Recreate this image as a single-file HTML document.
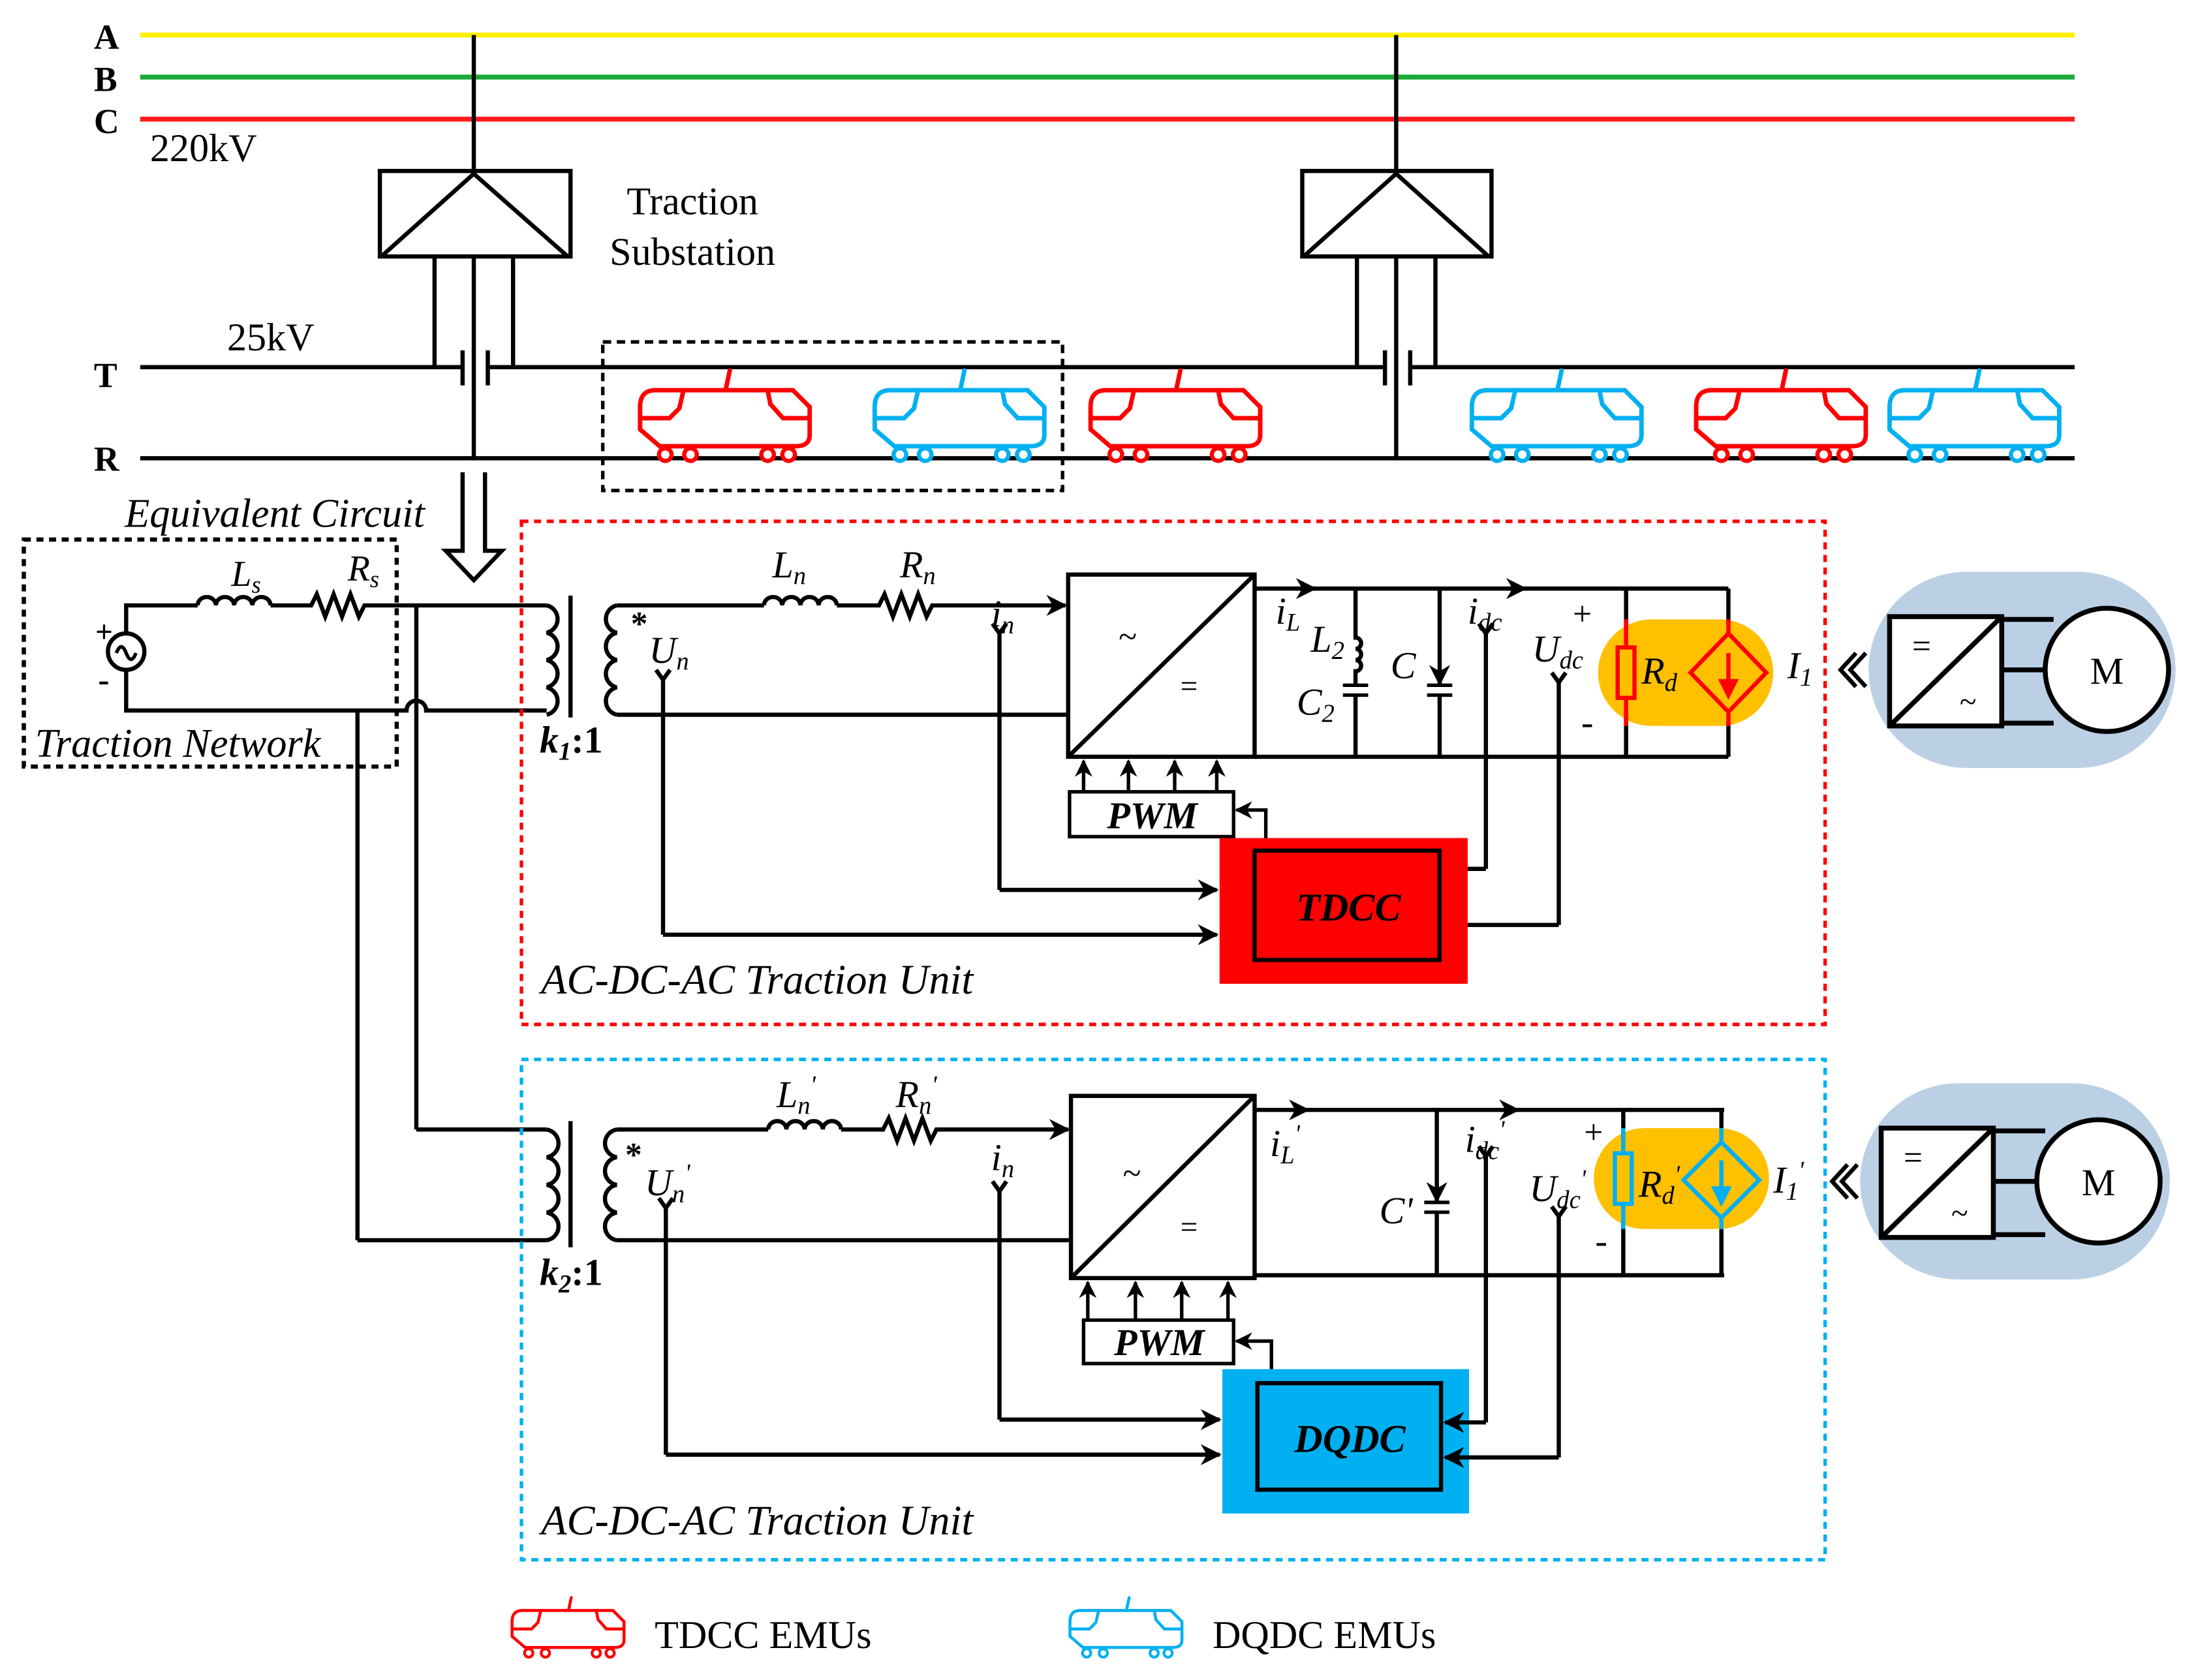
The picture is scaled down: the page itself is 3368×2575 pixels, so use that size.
<!DOCTYPE html>
<html><head><meta charset="utf-8"><style>
html,body{margin:0;padding:0;background:#fff;}
svg{display:block;}
text{font-family:"Liberation Serif",serif;}
</style></head><body>
<svg width="3368" height="2575" viewBox="0 0 1568 1198.8" xmlns="http://www.w3.org/2000/svg">
<defs>
<g id="train">
<path d="M16,20 L114,20 L126,32 L126,52 Q126,60 116,60 L19,60 L5,48 L5,32 Q5,20 16,20 Z" fill="#fff" stroke-width="3.2"/>
<path d="M5,40 L26,40 L33,33 L36,20 M96,20 L98,30 L107,40 L126,40 M66,20 L69,6" fill="none" stroke-width="3.2" stroke-linecap="round"/>
<g fill="#fff" stroke-width="3"><circle cx="23" cy="66" r="4.5"/><circle cx="41" cy="66" r="4.5"/><circle cx="96" cy="66" r="4.5"/><circle cx="111" cy="66" r="4.5"/></g>
</g>
<marker id="ar" viewBox="0 0 10 10" refX="9" refY="5" markerWidth="5" markerHeight="5" orient="auto"><path d="M0,0 L10,5 L0,10 L3,5Z" fill="#000"/></marker>
</defs>

<line x1="100" y1="25" x2="1480" y2="25" stroke="#ffee00" stroke-width="3.5"/>
<line x1="100" y1="55" x2="1480" y2="55" stroke="#1aaa3a" stroke-width="3.5"/>
<line x1="100" y1="85" x2="1480" y2="85" stroke="#ff1a1a" stroke-width="3.5"/>
<g font-size="25" font-weight="bold"><text x="67" y="35">A</text><text x="67" y="65">B</text><text x="67" y="95">C</text><text x="67" y="276">T</text><text x="67" y="336">R</text></g>
<text x="107" y="115" font-size="28">220kV</text>
<text x="162" y="250" font-size="28">25kV</text>
<text x="494" y="153" font-size="28" text-anchor="middle">Traction</text>
<text x="494" y="189" font-size="28" text-anchor="middle">Substation</text>

<g stroke="#000" stroke-width="3" fill="none">
<line x1="100" y1="262" x2="330" y2="262"/><line x1="348" y1="262" x2="988" y2="262"/><line x1="1006" y1="262" x2="1480" y2="262"/>
<line x1="100" y1="327" x2="1480" y2="327"/>
<line x1="338" y1="25" x2="338" y2="122"/>
<rect x="271" y="122" width="136" height="61"/>
<path d="M272,183 L338,124 L405,183"/>
<line x1="310" y1="183" x2="310" y2="262"/><line x1="366" y1="183" x2="366" y2="262"/><line x1="338" y1="183" x2="338" y2="327"/>
<line x1="330" y1="250" x2="330" y2="275"/><line x1="348" y1="250" x2="348" y2="275"/>
<line x1="996" y1="25" x2="996" y2="122"/>
<rect x="929" y="122" width="135" height="61"/>
<path d="M930,183 L996,124 L1062,183"/>
<line x1="968" y1="183" x2="968" y2="262"/><line x1="1024" y1="183" x2="1024" y2="262"/><line x1="996" y1="183" x2="996" y2="327"/>
<line x1="988" y1="250" x2="988" y2="275"/><line x1="1006" y1="250" x2="1006" y2="275"/>
</g>
<rect x="430" y="244" width="328" height="106" fill="none" stroke="#000" stroke-width="2.5" stroke-dasharray="6,4"/>
<use href="#train" x="451.6" y="258.4" stroke="#ff0000"/>
<use href="#train" x="619" y="258.4" stroke="#00b0f0"/>
<use href="#train" x="773" y="258.4" stroke="#ff0000"/>
<use href="#train" x="1045" y="258.4" stroke="#00b0f0"/>
<use href="#train" x="1205" y="258.4" stroke="#ff0000"/>
<use href="#train" x="1343" y="258.4" stroke="#00b0f0"/>

<path d="M330,337 L330,393 L318,393 L338,414 L358,393 L346,393 L346,337" fill="#fff" stroke="#000" stroke-width="3"/>
<text x="196" y="376" font-size="29" font-style="italic" text-anchor="middle">Equivalent Circuit</text>

<rect x="17" y="385" width="266" height="162" fill="none" stroke="#000" stroke-width="3" stroke-dasharray="5,4"/>
<text x="25" y="540" font-size="29" font-style="italic">Traction Network</text>
<g stroke="#000" stroke-width="3" fill="none">
<path d="M90,452 L90,432 L141,432"/>
<path d="M141,432 a6.5,6 0 0 1 13,0 a6.5,6 0 0 1 13,0 a6.5,6 0 0 1 13,0 a6.5,6 0 0 1 13,0"/>
<path d="M193,432 L222,432 L226,424 L232,440 L238,424 L244,440 L250,424 L256,440 L260,432 L390,432"/>
<circle cx="90" cy="465" r="13"/>
<path d="M83,466 q3.5,-9 7,0 q3.5,9 7,0" stroke-width="2.5"/>
<path d="M90,478 L90,507 L290,507 a7,7 0 0 1 14,0 L390,507"/>
<line x1="297" y1="432" x2="297" y2="806"/><line x1="297" y1="806" x2="390" y2="806"/>
<line x1="255" y1="507" x2="255" y2="885"/><line x1="255" y1="885" x2="390" y2="885"/>
</g>
<text x="68" y="458" font-size="22" font-weight="bold">+</text><text x="70" y="493" font-size="24" font-weight="bold">-</text>
<text x="165" y="418" font-size="26" font-style="italic">L<tspan font-size="17" dy="5">s</tspan></text>
<text x="248" y="414" font-size="26" font-style="italic">R<tspan font-size="17" dy="5">s</tspan></text>

<rect x="372" y="372" width="930" height="359" fill="none" stroke="#ff0000" stroke-width="2.5" stroke-dasharray="5,4"/>
<rect x="372" y="756" width="930" height="357" fill="none" stroke="#00b0f0" stroke-width="2.5" stroke-dasharray="5,4"/>
<text x="386" y="709" font-size="30" font-style="italic">AC-DC-AC Traction Unit</text>
<text x="386" y="1095" font-size="30" font-style="italic">AC-DC-AC Traction Unit</text>

<!-- Unit 1 -->
<g stroke="#000" stroke-width="3" fill="none">
<path d="M390,432 a10,10 0 0 1 0,19.5 a10,10 0 0 1 0,19.5 a10,10 0 0 1 0,19.5 a10,10 0 0 1 0,19.5"/>
<line x1="407" y1="425" x2="407" y2="512"/>
<path d="M440,432 a10,10 0 0 0 0,19.5 a10,10 0 0 0 0,19.5 a10,10 0 0 0 0,19.5 a10,10 0 0 0 0,19.5"/>
<path d="M440,432 L545,432"/>
<path d="M545,432 a6.5,6 0 0 1 13,0 a6.5,6 0 0 1 13,0 a6.5,6 0 0 1 13,0 a6.5,6 0 0 1 13,0"/>
<path d="M597,432 L627,432 L631,424 L637,440 L643,424 L649,440 L655,424 L661,440 L665,432 L760,432" marker-end="url(#ar)"/>
<line x1="440" y1="510" x2="762" y2="510"/>
<rect x="762" y="410" width="133" height="130"/>
<line x1="762" y1="540" x2="895" y2="410"/>
<line x1="895" y1="420" x2="1233" y2="420"/>
<line x1="895" y1="540" x2="1233" y2="540"/>
<line x1="925" y1="420" x2="938" y2="420" marker-end="url(#ar)"/>
<line x1="1075" y1="420" x2="1088" y2="420" marker-end="url(#ar)"/>
<path d="M967,420 L967,455 a4,4 0 0 1 0,8 a4,4 0 0 1 0,8 a4,4 0 0 1 0,8 L967,488"/>
<line x1="967" y1="497" x2="967" y2="540"/>
<line x1="1027" y1="420" x2="1027" y2="488" marker-end="url(#ar)"/>
<line x1="1027" y1="497" x2="1027" y2="540"/>
<line x1="1060" y1="452" x2="1060" y2="620"/><line x1="1060" y1="620" x2="1047" y2="620"/>
<line x1="1112" y1="487" x2="1112" y2="660"/><line x1="1047" y1="660" x2="1112" y2="660"/>
<line x1="713" y1="452" x2="713" y2="635"/><line x1="713" y1="635" x2="868" y2="635" marker-end="url(#ar)"/>
<line x1="473" y1="485" x2="473" y2="667"/><line x1="473" y1="667" x2="868" y2="667" marker-end="url(#ar)"/>
<path d="M708,445 L713,452 L718,445 M468,478 L473,485 L478,478 M1055,445 L1060,452 L1065,445 M1107,480 L1112,487 L1117,480"/>
</g>
<rect x="1140" y="442" width="125" height="76" rx="38" fill="#ffc000"/>
<g stroke="#000" stroke-width="3"><line x1="1160" y1="420" x2="1160" y2="450"/><line x1="1160" y1="510" x2="1160" y2="540"/><line x1="1233" y1="420" x2="1233" y2="445"/><line x1="1233" y1="515" x2="1233" y2="540"/></g>
<g stroke="#ff0000" stroke-width="3" fill="none">
<line x1="1160" y1="442" x2="1160" y2="518"/>
<rect x="1154" y="462" width="12" height="36" fill="#ffc000"/>
<line x1="1233" y1="442" x2="1233" y2="518"/>
<path d="M1233,452 L1260,480 L1233,508 L1206,480Z" fill="#ffc000"/>
<line x1="1233" y1="466" x2="1233" y2="490"/><path d="M1228,486 L1233,496 L1238,486Z" fill="#ff0000"/>
</g>
<g stroke="#000" stroke-width="2.5"><line x1="958" y1="489" x2="976" y2="489"/><line x1="958" y1="496" x2="976" y2="496"/><line x1="1018" y1="489" x2="1036" y2="489"/><line x1="1018" y1="496" x2="1036" y2="496"/></g>
<text x="798" y="462" font-size="24">~</text><text x="842" y="497" font-size="22">=</text>
<text x="450" y="453" font-size="24" font-weight="bold">*</text>
<g font-size="27" font-style="italic">
<text x="463" y="473">U<tspan font-size="18" dy="5">n</tspan></text>
<text x="551" y="412">L<tspan font-size="18" dy="5">n</tspan></text>
<text x="642" y="412">R<tspan font-size="18" dy="5">n</tspan></text>
<text x="707" y="447">i<tspan font-size="18" dy="5">n</tspan></text>
<text x="910" y="445">i<tspan font-size="18" dy="5">L</tspan></text>
<text x="935" y="465">L<tspan font-size="18" dy="5">2</tspan></text>
<text x="925" y="510">C<tspan font-size="18" dy="5">2</tspan></text>
<text x="992" y="484">C</text>
<text x="1047" y="445">i<tspan font-size="18" dy="5">dc</tspan></text>
<text x="1093" y="472">U<tspan font-size="18" dy="5">dc</tspan></text>
<text x="1171" y="488">R<tspan font-size="18" dy="5">d</tspan></text>
<text x="1275" y="484">I<tspan font-size="18" dy="5">1</tspan></text>
<text x="385" y="537" font-weight="bold">k<tspan font-size="18" dy="5">1</tspan><tspan dy="-5" font-style="normal">:1</tspan></text>
</g>
<text x="1122" y="446" font-size="24">+</text><text x="1128" y="524" font-size="26">-</text>
<g stroke="#000" stroke-width="2.5" fill="none">
<rect x="763" y="565" width="117" height="32" fill="#fff"/>
<line x1="773" y1="565" x2="773" y2="543" marker-end="url(#ar)"/>
<line x1="805" y1="565" x2="805" y2="543" marker-end="url(#ar)"/>
<line x1="838" y1="565" x2="838" y2="543" marker-end="url(#ar)"/>
<line x1="868" y1="565" x2="868" y2="543" marker-end="url(#ar)"/>
<path d="M903,598 L903,578 L882,578" marker-end="url(#ar)"/>
</g>
<text x="822" y="591" font-size="27" font-weight="bold" font-style="italic" text-anchor="middle">PWM</text>
<rect x="870" y="598" width="177" height="104" fill="#ff0000"/>
<rect x="895" y="607" width="132" height="78" fill="none" stroke="#000" stroke-width="3"/>
<text x="962" y="657" font-size="28" font-weight="bold" font-style="italic" text-anchor="middle">TDCC</text>
<rect x="1333" y="408" width="219" height="140" rx="70" fill="#bcd0e5"/>
<g stroke="#000" stroke-width="3.5" fill="#fff">
<rect x="1348" y="440" width="80" height="78"/>
<line x1="1348" y1="518" x2="1428" y2="440"/>
<path d="M1428,442 L1465,442 M1428,478 L1458,478 M1428,516 L1465,516" fill="none"/>
<circle cx="1503" cy="478" r="44"/>
</g>
<text x="1364" y="469" font-size="24">=</text><text x="1398" y="508" font-size="22">~</text>
<text x="1503" y="488" font-size="27" text-anchor="middle">M</text>
<path d="M1331,466 L1320,478 L1331,490 M1324,466 L1313,478 L1324,490" stroke="#000" stroke-width="3" fill="none"/>

<!-- Unit 2 -->
<g stroke="#000" stroke-width="3" fill="none">
<path d="M390,806 a10,10 0 0 1 0,19.75 a10,10 0 0 1 0,19.75 a10,10 0 0 1 0,19.75 a10,10 0 0 1 0,19.75"/>
<line x1="407" y1="800" x2="407" y2="890"/>
<path d="M440,806 a10,10 0 0 0 0,19.75 a10,10 0 0 0 0,19.75 a10,10 0 0 0 0,19.75 a10,10 0 0 0 0,19.75"/>
<path d="M440,806 L548,806"/>
<path d="M548,806 a6.5,6 0 0 1 13,0 a6.5,6 0 0 1 13,0 a6.5,6 0 0 1 13,0 a6.5,6 0 0 1 13,0"/>
<path d="M600,806 L630,806 L634,798 L640,814 L646,798 L652,814 L658,798 L664,814 L668,806 L762,806" marker-end="url(#ar)"/>
<line x1="440" y1="885" x2="764" y2="885"/>
<rect x="764" y="782" width="131" height="130"/>
<line x1="764" y1="912" x2="895" y2="782"/>
<line x1="895" y1="792" x2="1230" y2="792"/>
<line x1="895" y1="910" x2="1230" y2="910"/>
<line x1="920" y1="792" x2="933" y2="792" marker-end="url(#ar)"/>
<line x1="1070" y1="792" x2="1083" y2="792" marker-end="url(#ar)"/>
<line x1="1025" y1="792" x2="1025" y2="857" marker-end="url(#ar)"/>
<line x1="1025" y1="866" x2="1025" y2="910"/>
<line x1="1060" y1="825" x2="1060" y2="1015"/><line x1="1060" y1="1015" x2="1048" y2="1015"/>
<line x1="1112" y1="868" x2="1112" y2="1040"/><line x1="1112" y1="1040" x2="1048" y2="1040"/>
<line x1="713" y1="850" x2="713" y2="1013"/><line x1="713" y1="1013" x2="870" y2="1013" marker-end="url(#ar)"/>
<line x1="475" y1="862" x2="475" y2="1038"/><line x1="475" y1="1038" x2="870" y2="1038" marker-end="url(#ar)"/>
<path d="M708,843 L713,850 L718,843 M470,855 L475,862 L480,855 M1055,818 L1060,825 L1065,818 M1107,861 L1112,868 L1117,861"/>
</g>
<rect x="1137" y="805" width="125" height="72" rx="36" fill="#ffc000"/>
<g stroke="#000" stroke-width="3"><line x1="1158" y1="792" x2="1158" y2="815"/><line x1="1158" y1="870" x2="1158" y2="910"/><line x1="1228" y1="792" x2="1228" y2="805"/><line x1="1228" y1="877" x2="1228" y2="910"/></g>
<g stroke="#00b0f0" stroke-width="3" fill="none">
<line x1="1158" y1="805" x2="1158" y2="877"/>
<rect x="1152" y="823" width="12" height="36" fill="#ffc000"/>
<line x1="1228" y1="805" x2="1228" y2="877"/>
<path d="M1228,815 L1255,842 L1228,869 L1201,842Z" fill="#ffc000"/>
<line x1="1228" y1="828" x2="1228" y2="852"/><path d="M1223,848 L1228,858 L1233,848Z" fill="#00b0f0"/>
</g>
<g stroke="#000" stroke-width="2.5"><line x1="1016" y1="858" x2="1034" y2="858"/><line x1="1016" y1="865" x2="1034" y2="865"/></g>
<text x="801" y="845" font-size="24">~</text><text x="842" y="883" font-size="22">=</text>
<text x="446" y="832" font-size="24" font-weight="bold">*</text>
<g font-size="27" font-style="italic">
<text x="460" y="853">U<tspan font-size="18" dy="5">n</tspan><tspan dy="-15" font-size="18">'</tspan></text>
<text x="554" y="790">L<tspan font-size="18" dy="5">n</tspan><tspan dy="-15" font-size="18">'</tspan></text>
<text x="639" y="790">R<tspan font-size="18" dy="5">n</tspan><tspan dy="-15" font-size="18">'</tspan></text>
<text x="707" y="835">i<tspan font-size="18" dy="5">n</tspan></text>
<text x="906" y="825">i<tspan font-size="18" dy="5">L</tspan><tspan dy="-15" font-size="18">'</tspan></text>
<text x="984" y="873">C'</text>
<text x="1045" y="822">i<tspan font-size="18" dy="5">dc</tspan><tspan dy="-15" font-size="18">'</tspan></text>
<text x="1091" y="857">U<tspan font-size="18" dy="5">dc</tspan><tspan dy="-15" font-size="18">'</tspan></text>
<text x="1169" y="854">R<tspan font-size="18" dy="5">d</tspan><tspan dy="-15" font-size="18">'</tspan></text>
<text x="1265" y="851">I<tspan font-size="18" dy="5">1</tspan><tspan dy="-15" font-size="18">'</tspan></text>
<text x="385" y="917" font-weight="bold">k<tspan font-size="18" dy="5">2</tspan><tspan dy="-5" font-style="normal">:1</tspan></text>
</g>
<text x="1130" y="816" font-size="24">+</text><text x="1138" y="894" font-size="26">-</text>
<g stroke="#000" stroke-width="2.5" fill="none">
<rect x="773" y="942" width="107" height="31" fill="#fff"/>
<line x1="776" y1="942" x2="776" y2="915" marker-end="url(#ar)"/>
<line x1="810" y1="942" x2="810" y2="915" marker-end="url(#ar)"/>
<line x1="843" y1="942" x2="843" y2="915" marker-end="url(#ar)"/>
<line x1="876" y1="942" x2="876" y2="915" marker-end="url(#ar)"/>
<path d="M907,977 L907,957 L882,957" marker-end="url(#ar)"/>
</g>
<text x="827" y="967" font-size="27" font-weight="bold" font-style="italic" text-anchor="middle">PWM</text>
<rect x="872" y="977" width="176" height="103" fill="#00b0f0"/>
<rect x="897" y="987" width="131" height="76" fill="none" stroke="#000" stroke-width="3"/>
<g stroke="#000" stroke-width="3"><line x1="1048" y1="1015" x2="1031" y2="1015" marker-end="url(#ar)"/><line x1="1048" y1="1040" x2="1031" y2="1040" marker-end="url(#ar)"/></g>
<text x="963" y="1036" font-size="28" font-weight="bold" font-style="italic" text-anchor="middle">DQDC</text>
<rect x="1327" y="773" width="221" height="140" rx="70" fill="#bcd0e5"/>
<g stroke="#000" stroke-width="3.5" fill="#fff">
<rect x="1342" y="805" width="80" height="78"/>
<line x1="1342" y1="883" x2="1422" y2="805"/>
<path d="M1422,807 L1459,807 M1422,843 L1452,843 M1422,881 L1459,881" fill="none"/>
<circle cx="1497" cy="843" r="44"/>
</g>
<text x="1358" y="834" font-size="24">=</text><text x="1392" y="873" font-size="22">~</text>
<text x="1497" y="853" font-size="27" text-anchor="middle">M</text>
<path d="M1325,831 L1314,843 L1325,855 M1318,831 L1307,843 L1318,855" stroke="#000" stroke-width="3" fill="none"/>

<!-- legend -->
<g transform="translate(362,1136) scale(0.66)" stroke="#ff0000"><use href="#train"/></g>
<g transform="translate(760,1136) scale(0.66)" stroke="#00b0f0"><use href="#train"/></g>
<text x="467" y="1176" font-size="28">TDCC EMUs</text>
<text x="865" y="1176" font-size="28">DQDC EMUs</text>
</svg>
</body></html>
